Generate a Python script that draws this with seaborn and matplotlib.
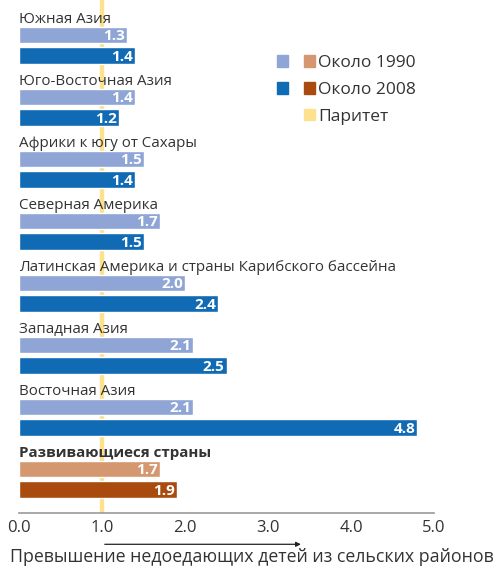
import matplotlib
matplotlib.use("Agg")
import matplotlib.pyplot as plt
import matplotlib.transforms as mtransforms
from matplotlib.patches import Patch
from matplotlib.legend_handler import HandlerTuple
import pandas as pd
import seaborn as sns

# Data
regions = [
    "Южная Азия",
    "Юго-Восточная Азия",
    "Африки к югу от Сахары",
    "Северная Америка",
    "Латинская Америка и страны Карибского бассейна",
    "Западная Азия",
    "Восточная Азия",
    "Развивающиеся страны",
]
around_1990 = [1.3, 1.4, 1.5, 1.7, 2.0, 2.1, 2.1, 1.7]
around_2008 = [1.4, 1.2, 1.4, 1.5, 2.4, 2.5, 4.8, 1.9]
parity = 1.0
x_ticks = [0, 1, 2, 3, 4, 5]

colors = {
    "r1990": "#8ea5d6",
    "r2008": "#106ab4",
    "d1990": "#d4976f",
    "d2008": "#a94b0e",
}
yellow = "#fde18d"
text_color = "#333333"

# Long-form table: 3 slots per group (label, 1990, 2008)
rows = []
for i, name in enumerate(regions):
    dev = i == len(regions) - 1
    rows.append({"pos": i * 3 + 1, "value": around_1990[i], "series": "d1990" if dev else "r1990"})
    rows.append({"pos": i * 3 + 2, "value": around_2008[i], "series": "d2008" if dev else "r2008"})
df = pd.DataFrame(rows)

sns.set_style("white")
plt.rcParams["font.family"] = ["Open Sans", "DejaVu Sans"]

fig = plt.figure(figsize=(4.98, 5.70), dpi=100)
ax = fig.add_axes([19 / 498, 57 / 570, 415 / 498, 513 / 570])

ax.axvline(parity, color=yellow, lw=3.2, zorder=0)

sns.barplot(
    data=df, x="value", y="pos", hue="series", palette=colors,
    orient="h", native_scale=True, width=0.8, legend=False,
    saturation=1, ax=ax, zorder=2,
)

ax.set_xlim(0, 5)
ax.set_ylim(24.13, -0.69)

# value labels inside bar ends
for _, r in df.iterrows():
    ax.text(r["value"] - 0.025, r["pos"], f"{r['value']:.1f}", ha="right", va="center_baseline",
            color="white", fontsize=11, fontweight="bold", zorder=3)

# group labels
for i, name in enumerate(regions):
    ax.text(0, i * 3 + 1 - 0.58, name, ha="left", va="baseline", color=text_color,
            fontsize=10.9, fontweight="bold" if i == len(regions) - 1 else "normal", zorder=3)

for s in ["top", "right", "left"]:
    ax.spines[s].set_visible(False)
ax.spines["bottom"].set_color("#999999")
ax.spines["bottom"].set_linewidth(1.2)
ax.set_yticks([])
ax.set_xticks(x_ticks)
ax.set_xticklabels([f"{t:.1f}" for t in x_ticks], fontsize=12, color=text_color)
ax.tick_params(axis="x", length=0, pad=5)
ax.set_xlabel("")
ax.set_ylabel("")

# arrow under the axis
trans = mtransforms.blended_transform_factory(ax.transData, ax.transAxes)
ax.annotate("", xy=(3.43, -0.061), xytext=(parity, -0.061), xycoords=trans, textcoords=trans,
            arrowprops=dict(arrowstyle="-|>", color="#222222", lw=0.9, mutation_scale=7),
            annotation_clip=False)

fig.text(252 / 498, 1 - 557 / 570, "Превышение недоедающих детей из сельских районов",
         ha="center", va="center", fontsize=12.8, color=text_color)

# legend
blank = Patch(facecolor="none", edgecolor="none")
handles = [
    (Patch(color=colors["r1990"]), Patch(color=colors["d1990"])),
    (Patch(color=colors["r2008"]), Patch(color=colors["d2008"])),
    (blank, Patch(color=yellow)),
]
labels = ["Около 1990", "Около 2008", "Паритет"]
fig.legend(handles, labels, handler_map={tuple: HandlerTuple(ndivide=None, pad=0.92)},
           loc="upper left", bbox_to_anchor=(277 / 498, 1 - 55 / 570), frameon=False,
           fontsize=12.5, handlelength=2.18, handleheight=0.63, handletextpad=0.2,
           labelspacing=0.63, borderpad=0, borderaxespad=0, labelcolor=text_color)

fig.savefig("out.png", dpi=100)
